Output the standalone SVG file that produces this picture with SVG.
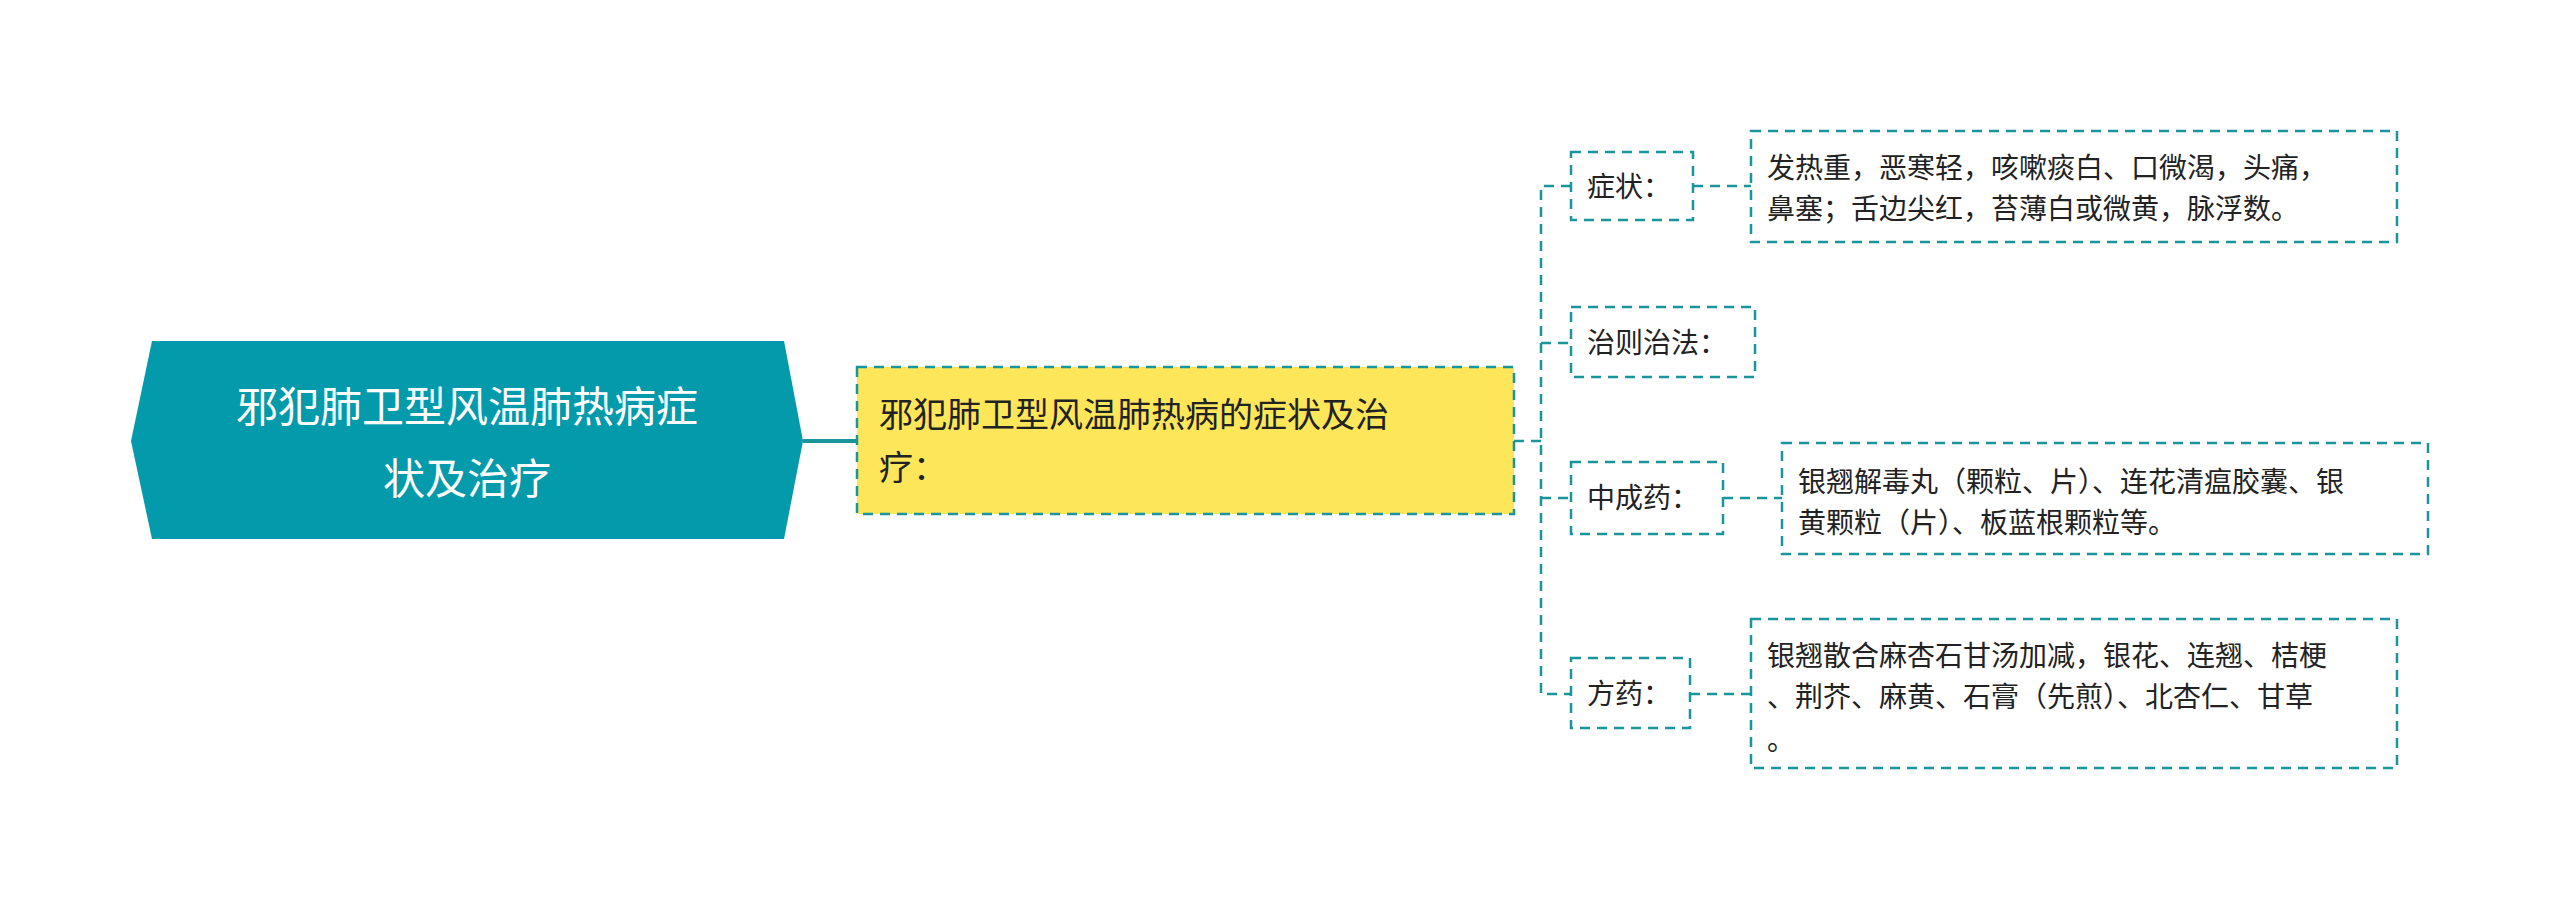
<svg xmlns="http://www.w3.org/2000/svg" width="2560" height="902" viewBox="0 0 2560 902">
<style>
text{font-family:"Noto Sans CJK SC","Liberation Sans",sans-serif;fill:#222}
.b{fill:#fff;stroke:#1b959c;stroke-width:2.5;stroke-dasharray:10 7}
.c{fill:none;stroke:#1b959c;stroke-width:2.5;stroke-dasharray:10 7}
.t{font-size:28px}
</style>
<rect width="2560" height="902" fill="#fff"/>
<g id="connectors">
<line x1="803" y1="441" x2="857" y2="441" stroke="#1b959c" stroke-width="4"/>
<line class="c" x1="1514" y1="441" x2="1541" y2="441"/>
<path class="c" d="M1571 186H1541V694H1571M1541 343H1571M1541 498H1571"/>
<line class="c" x1="1693" y1="186" x2="1751" y2="186"/>
<line class="c" x1="1723" y1="498" x2="1782" y2="498"/>
<line class="c" x1="1690" y1="694" x2="1751" y2="694"/>
</g>
<g id="root">
<polygon points="131,441 152,341 784,341 803,441 784,539 152,539" fill="#039aab"/>
<text x="467" y="422" text-anchor="middle" font-size="42" style="fill:#fff">邪犯肺卫型风温肺热病症</text>
<text x="467" y="494" text-anchor="middle" font-size="42" style="fill:#fff">状及治疗</text>
</g>
<g id="main">
<rect x="857" y="367" width="657" height="147" fill="#fde65a" stroke="#1b959c" stroke-width="2.5" stroke-dasharray="10 7"/>
<text x="879" y="427" font-size="34">邪犯肺卫型风温肺热病的症状及治</text>
<text x="879" y="480" font-size="34">疗：</text>
</g>
<g id="n1"><rect class="b" x="1571" y="152" width="122" height="68"/><text class="t" x="1587" y="197">症状：</text></g>
<g id="n1a"><rect class="b" x="1751" y="131" width="646" height="111"/>
<text class="t" x="1767" y="178">发热重，恶寒轻，咳嗽痰白、口微渴，头痛，</text>
<text class="t" x="1767" y="219">鼻塞；舌边尖红，苔薄白或微黄，脉浮数。</text></g>
<g id="n2"><rect class="b" x="1571" y="307" width="184" height="70"/><text class="t" x="1587" y="353">治则治法：</text></g>
<g id="n3"><rect class="b" x="1571" y="462" width="152" height="72"/><text class="t" x="1587" y="508">中成药：</text></g>
<g id="n3a"><rect class="b" x="1782" y="443" width="646" height="111"/>
<text class="t" x="1798" y="492">银翘解毒丸（颗粒、片）、连花清瘟胶囊、银</text>
<text class="t" x="1798" y="533">黄颗粒（片）、板蓝根颗粒等。</text></g>
<g id="n4"><rect class="b" x="1571" y="658" width="119" height="70"/><text class="t" x="1587" y="704">方药：</text></g>
<g id="n4a"><rect class="b" x="1751" y="619" width="646" height="149"/>
<text class="t" x="1767" y="666">银翘散合麻杏石甘汤加减，银花、连翘、桔梗</text>
<text class="t" x="1767" y="707">、荆芥、麻黄、石膏（先煎）、北杏仁、甘草</text>
<text class="t" x="1767" y="750">。</text></g>
</svg>
